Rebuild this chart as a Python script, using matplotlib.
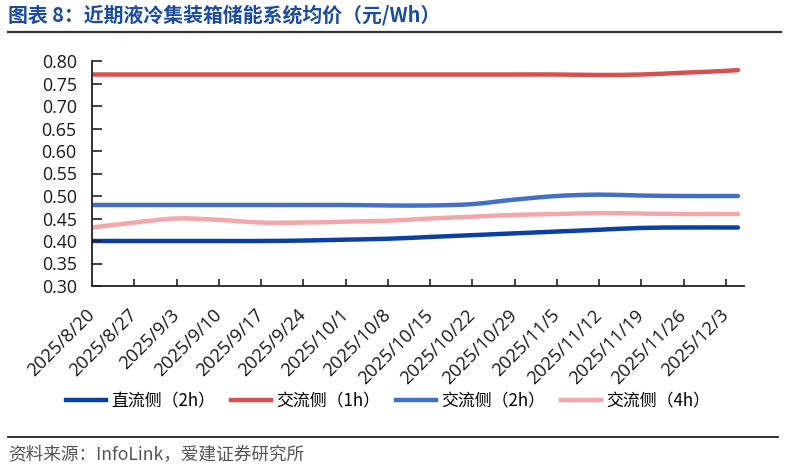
import numpy as np
import matplotlib
matplotlib.use("Agg")
import matplotlib.pyplot as plt
from matplotlib.path import Path
from matplotlib.patches import PathPatch
from matplotlib.lines import Line2D

plt.rcParams['font.family'] = ['Open Sans', 'Noto Sans CJK SC', 'DejaVu Sans']

# ---------------- data ----------------
title = "图表 8：近期液冷集装箱储能系统均价（元/Wh）"
source = "资料来源：InfoLink，爱建证券研究所"

data_dates = ['2025-08-20', '2025-08-27', '2025-09-03', '2025-09-10', '2025-09-17',
              '2025-09-24', '2025-10-01', '2025-10-08', '2025-10-15', '2025-10-22',
              '2025-10-29', '2025-11-05', '2025-11-12', '2025-11-19', '2025-11-26',
              '2025-12-03', '2025-12-05']
tick_labels = ['2025/8/20', '2025/8/27', '2025/9/3', '2025/9/10', '2025/9/17',
               '2025/9/24', '2025/10/1', '2025/10/8', '2025/10/15', '2025/10/22',
               '2025/10/29', '2025/11/5', '2025/11/12', '2025/11/19', '2025/11/26',
               '2025/12/3']
tick_dates = data_dates[:16]

series_names = ['直流侧（2h）', '交流侧（1h）', '交流侧（2h）', '交流侧（4h）']
dc_2h = [0.400, 0.400, 0.400, 0.400, 0.400, 0.401, 0.403, 0.405, 0.409, 0.413,
         0.417, 0.421, 0.425, 0.429, 0.430, 0.430, 0.430]
ac_1h = [0.770, 0.770, 0.770, 0.770, 0.770, 0.770, 0.770, 0.770, 0.770, 0.770,
         0.770, 0.770, 0.769, 0.770, 0.774, 0.778, 0.780]
ac_2h = [0.480, 0.480, 0.480, 0.480, 0.480, 0.480, 0.480, 0.479, 0.479, 0.482,
         0.492, 0.500, 0.503, 0.501, 0.500, 0.500, 0.500]
ac_4h = [0.430, 0.441, 0.450, 0.447, 0.441, 0.441, 0.443, 0.445, 0.450, 0.454,
         0.458, 0.460, 0.462, 0.461, 0.460, 0.460, 0.460]
colors = ['#0B3FA3', '#D6504F', '#4270C8', '#F5A6A9']

# ---------------- helpers ----------------
d0 = np.datetime64('2025-08-20')
x = (np.array(data_dates, dtype='datetime64[D]') - d0).astype(float)
xt = (np.array(tick_dates, dtype='datetime64[D]') - d0).astype(float)


def smooth_path(xs, ys):
    pts = np.column_stack([xs, ys])
    n = len(pts)
    verts = [pts[0]]
    codes = [Path.MOVETO]
    for i in range(n - 1):
        p0 = pts[i - 1] if i > 0 else pts[i]
        p1 = pts[i]
        p2 = pts[i + 1]
        p3 = pts[i + 2] if i + 2 < n else pts[i + 1]
        c1 = p1 + (p2 - p0) / 6.0
        c2 = p2 - (p3 - p1) / 6.0
        verts += [c1, c2, p2]
        codes += [Path.CURVE4] * 3
    return Path(verts, codes)


# ---------------- figure ----------------
fig = plt.figure(figsize=(7.87, 4.70), dpi=100)
ax = fig.add_axes([92 / 787, 1 - 286 / 470, (744 - 92) / 787, (286 - 61) / 470])

for vals, c in zip([dc_2h, ac_1h, ac_2h, ac_4h], colors):
    patch = PathPatch(smooth_path(x, vals), fill=False, edgecolor=c, lw=3.2,
                      capstyle='round', joinstyle='round')
    ax.add_patch(patch)

ax.set_xlim(0, 108)
ax.set_ylim(0.30, 0.80)
ax.set_yticks(np.arange(0.30, 0.801, 0.05))
ax.set_yticklabels([f"{v:.2f}" for v in np.arange(0.30, 0.801, 0.05)], fontsize=12.8, color='#1a1a1a')
ax.set_xticks(xt)
ax.set_xticklabels(tick_labels, rotation=45, ha='right', va='center', rotation_mode='anchor',
                   fontsize=13.2, color='#1a1a1a')

ax.tick_params(axis='y', direction='in', length=7, width=1.2, color='#222222', pad=11)
ax.tick_params(axis='x', direction='in', length=5, width=1.2, color='#222222', pad=19)
for s in ['top', 'right']:
    ax.spines[s].set_visible(False)
for s in ['left', 'bottom']:
    ax.spines[s].set_linewidth(1.3)
    ax.spines[s].set_color('#222222')
# hide first x tick (coincides with y axis)
ax.xaxis.get_major_ticks()[0].tick1line.set_visible(False)

handles = [Line2D([], [], color=c, lw=3.2) for c in colors]
fig.legend(handles, series_names, loc='center', bbox_to_anchor=(388 / 787, 1 - 401 / 470),
           ncol=4, frameon=False, handlelength=2.4, handletextpad=0.3,
           columnspacing=0.9, prop={'family': ['Noto Sans CJK SC'], 'size': 12.2})

fig.text(8 / 787, 1 - 15 / 470, title, fontsize=14.3, fontweight='bold', color='#1B4C9E',
         va='center', ha='left', family=['Noto Sans CJK SC'])
fig.add_artist(Line2D([8 / 787, 781 / 787], [1 - 32 / 470] * 2, color='#333333', lw=1.6))
fig.add_artist(Line2D([8 / 787, 778 / 787], [1 - 437 / 470] * 2, color='#222222', lw=1.3))
fig.text(8 / 787, 1 - 455 / 470, source, fontsize=12.7, color='#555555', va='center', ha='left',
         family=['Noto Sans CJK SC'])

fig.savefig('out.png', dpi=100)
